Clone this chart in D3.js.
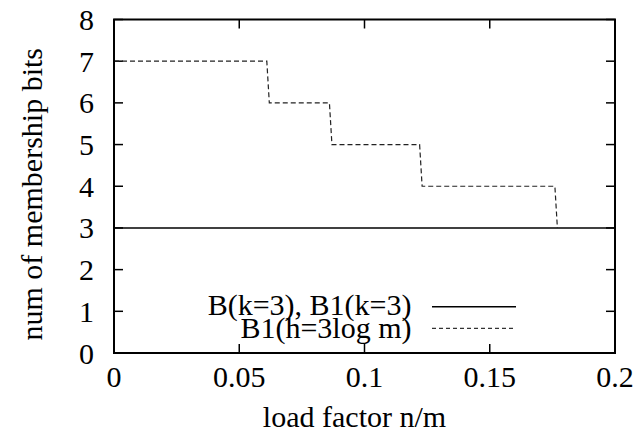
<!DOCTYPE html>
<html>
<head>
<meta charset="utf-8">
<script src="https://cdn.jsdelivr.net/npm/d3@7"></script>
<style>
  html, body { margin: 0; padding: 0; background: #fff; }
  svg { display: block; }
</style>
</head>
<body>
<svg id="chart" width="640" height="447"></svg>
<script>
// Membership bits needed as the filter fills up
const fixedLoad = [0, 0.2];
const fixedBits = [3, 3];
const logLoad = [0, 0.061, 0.062, 0.086, 0.087, 0.122, 0.123, 0.176, 0.177];
const logBits = [7, 7, 6, 6, 5, 5, 4, 4, 3];

const xTicks = [0, 0.05, 0.1, 0.15, 0.2];
const xTickLabels = ["0", "0.05", "0.1", "0.15", "0.2"];
const yTicks = [0, 1, 2, 3, 4, 5, 6, 7, 8];

const seriesNames = ["B(k=3), B1(k=3)", "B1(h=3log m)"];
const xTitle = "load factor n/m";
const yTitle = "num of membership bits";

const svg = d3.select("#chart")
  .attr("font-family", "'Liberation Serif', 'Times New Roman', Times, serif");
const plotL = 114, plotR = 615, plotT = 19.5, plotB = 353;

const x = d3.scaleLinear().domain([0, 0.2]).range([plotL, plotR]);
const y = d3.scaleLinear().domain([0, 8]).range([plotB, plotT]);

const tickLen = 9;
const fontSize = 30;

// tick marks on all four sides, pointing inward
const ax = svg.append("g");
ax.selectAll(".xt").data(xTicks).join("line")
  .attr("x1", d => x(d)).attr("x2", d => x(d))
  .attr("y1", plotB).attr("y2", plotB - tickLen)
  .attr("stroke", "#000").attr("stroke-width", 1.5);
ax.selectAll(".xtt").data(xTicks).join("line")
  .attr("x1", d => x(d)).attr("x2", d => x(d))
  .attr("y1", plotT).attr("y2", plotT + tickLen)
  .attr("stroke", "#000").attr("stroke-width", 1.5);
ax.selectAll(".yt").data(yTicks).join("line")
  .attr("x1", plotL).attr("x2", plotL + tickLen)
  .attr("y1", d => y(d)).attr("y2", d => y(d))
  .attr("stroke", "#000").attr("stroke-width", 1.5);
ax.selectAll(".ytr").data(yTicks).join("line")
  .attr("x1", plotR).attr("x2", plotR - tickLen)
  .attr("y1", d => y(d)).attr("y2", d => y(d))
  .attr("stroke", "#000").attr("stroke-width", 1.5);

// tick labels
svg.selectAll(".xl").data(xTicks).join("text")
  .attr("x", d => x(d)).attr("y", 386.5)
  .attr("text-anchor", "middle").attr("font-size", fontSize)
  .text((d, i) => xTickLabels[i]);
svg.selectAll(".yl").data(yTicks).join("text")
  .attr("x", 94).attr("y", d => y(d) + 10.5)
  .attr("text-anchor", "end").attr("font-size", fontSize)
  .text(d => d);

// axis titles
svg.append("text")
  .attr("x", (plotL + plotR) / 2 - 10).attr("y", 427)
  .attr("text-anchor", "middle").attr("font-size", fontSize)
  .text(xTitle);
svg.append("text")
  .attr("transform", `translate(41.5,${(plotT + plotB) / 2 + 8}) rotate(-90)`)
  .attr("text-anchor", "middle").attr("font-size", fontSize)
  .text(yTitle);

// data lines
const line = d3.line().x(d => x(d[0])).y(d => y(d[1]));
svg.append("path")
  .datum(fixedLoad.map((v, i) => [v, fixedBits[i]]))
  .attr("d", line).attr("fill", "none")
  .attr("stroke", "#000").attr("stroke-width", 1.4);
svg.append("path")
  .datum(logLoad.map((v, i) => [v, logBits[i]]))
  .attr("d", line).attr("fill", "none")
  .attr("stroke", "#222").attr("stroke-width", 1.2)
  .attr("stroke-dasharray", "5,3");

// legend
const legend = svg.append("g");
const legRows = [
  { name: seriesNames[0], y: 306.7, base: 315, dash: null, w: 1.4 },
  { name: seriesNames[1], y: 328.3, base: 338, dash: "4,3", w: 1 }
];
legRows.forEach(r => {
  legend.append("text")
    .attr("x", 411.5).attr("y", r.base)
    .attr("text-anchor", "end").attr("font-size", fontSize)
    .text(r.name);
  legend.append("line")
    .attr("x1", 432).attr("x2", 516)
    .attr("y1", r.y).attr("y2", r.y)
    .attr("stroke", "#000").attr("stroke-width", r.w)
    .attr("stroke-dasharray", r.dash);
});

// frame
svg.append("rect")
  .attr("x", plotL).attr("y", plotT)
  .attr("width", plotR - plotL).attr("height", plotB - plotT)
  .attr("fill", "none").attr("stroke", "#000").attr("stroke-width", 2);
</script>
</body>
</html>
